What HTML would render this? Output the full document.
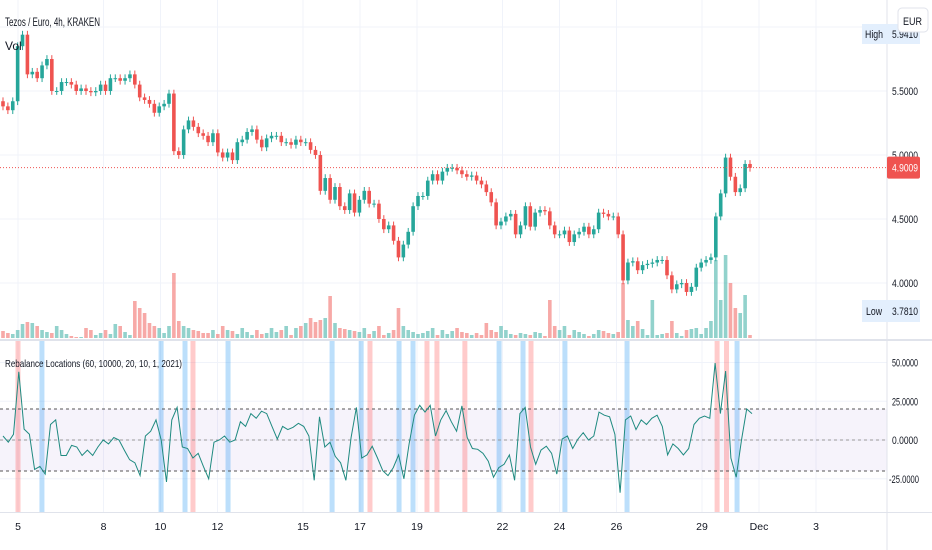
<!DOCTYPE html>
<html><head><meta charset="utf-8"><style>
html,body{margin:0;padding:0;background:#fff;width:932px;height:550px;overflow:hidden}
svg{display:block;font-family:"Liberation Sans",sans-serif}
</style></head><body>
<svg id="c" width="932" height="550" viewBox="0 0 932 550"></svg>
<script>
const closes=[5.38,5.35,5.42,5.85,5.94,5.63,5.65,5.6,5.7,5.75,5.5,5.5,5.57,5.57,5.55,5.5,5.52,5.5,5.49,5.5,5.55,5.5,5.6,5.6,5.58,5.6,5.63,5.55,5.45,5.43,5.4,5.33,5.38,5.4,5.48,5.03,5.0,5.2,5.27,5.22,5.17,5.15,5.1,5.17,5.02,4.98,5.02,4.96,5.1,5.12,5.18,5.2,5.12,5.06,5.13,5.15,5.15,5.1,5.1,5.08,5.12,5.1,5.1,5.04,5.0,4.72,4.82,4.65,4.75,4.6,
4.57,4.7,4.55,4.65,4.72,4.62,4.62,4.5,4.42,4.45,4.33,4.2,4.3,4.4,4.6,4.68,4.68,4.8,4.85,4.8,4.87,4.9,4.9,4.88,4.85,
4.83,4.84,4.8,4.77,4.71,4.63,4.45,4.48,4.52,4.54,4.38,4.45,4.6,4.44,4.55,4.57,4.56,4.45,4.38,4.38,4.41,4.32,4.38,4.4,4.44,4.38,4.42,4.55,4.54,4.52,4.52,4.38,4.02,4.16,4.17,4.1,4.14,4.15,4.16,4.18,4.18,4.06,3.95,3.99,4.0,3.93,3.97,4.12,4.16,4.18,4.2,4.52,4.7,4.98,4.83,4.71,4.74,4.93,4.9];
const volumes=[7,5,4,8,14,16,15,12,8,6,5,12,8,4,2,1,1,10,8,3,5,8,4,14,12,6,3,37,30,25,15,12,10,5,12,65,17,12,10,8,7,5,5,8,4,12,8,7,4,10,6,3,8,4,5,10,6,8,12,3,10,12,15,20,16,18,20,42,15,10,
9,8,7,6,10,4,7,12,3,5,8,30,12,8,6,4,5,7,10,3,8,4,7,10,6,
5,3,5,3,15,8,6,12,8,4,3,5,4,3,6,5,2,38,12,8,12,3,8,6,4,2,4,8,7,5,4,6,55,18,12,17,9,3,38,3,4,5,17,5,2,8,9,10,4,10,17,78,38,83,55,30,25,43,3];
const osc=[2.6,-1.4,3.7,44,7,3.7,-19,-17,-22,10,13,-10,-10,-3.5,-4.5,-10,-6.5,-10,-4.5,0,-2.5,1.6,0,-6.5,-12.7,-14.7,-23,2.6,5.7,13,0,-27,13,21,-4.5,-5.5,-11.6,-8.6,-17,-25,-1.4,0,2.6,-1.4,0,11.8,8.8,17,14,18.6,17,8.8,0.6,8.8,6.7,8.2,10.8,8.8,2.6,-26,15,-4.5,-1.4,-10.6,-14.7,-26,1.6,21,-11.6,-9.6,-4,-11.6,-19.8,-23,-17.8,-9.6,-25,-2.5,16,22.4,18,22.4,2.6,13,19,11.8,5.7,22,1.6,-5.5,-6,-8.6,-13.7,-24,-17.8,-15.7,-9.6,-26,17,21,-4.5,-15.7,-6.5,-4,-8.6,-22,0.6,2.6,-5.5,0.6,4.7,0,2.6,18,16,15,3.7,-34,13,15.5,6.7,13,10,14,16,8.8,-9.6,-2.5,-5.5,-9.6,-5.5,10,14,15.5,14,49.6,17,44.5,-11.6,-24,0,20,17];
const redStripeDays=[5.0,11.14,17.35,19.35,19.7,20.68,23.0,29.53,29.86];
const blueStripeDays=[5.84,10.02,10.86,12.37,16.02,17.04,18.37,18.86,21.88,22.72,24.19,26.37,30.23];
const tickDays=[5,8,10,12,15,17,19,22,24,26,29,31,33];
const tickLabels=["5","8","10","12","15","17","19","22","24","26","29","Dec","3"];
const priceTicks=[5.5,5.0,4.5,4.0];
const oscTicks=[50,25,0,-25];
const lastPrice=4.9009;

const NS="http://www.w3.org/2000/svg";
const svg=document.getElementById('c');
function el(t,a,p){const e=document.createElementNS(NS,t);for(const k in a)e.setAttribute(k,a[k]);(p||svg).appendChild(e);return e;}
const py=p=>155-(p-5)*128;
const oy=v=>440-v*1.55;
const dx=d=>18+(d-5)*28.5;
const bx=(i,n)=>3+i*(747/(n-1));
const G="#26a69a",R="#ef5350";

for(const p of [6.0].concat(priceTicks)){const l=el('line',{x1:0,x2:887,y1:py(p),y2:py(p),stroke:'#f0f3fa'});}
tickDays.forEach(d=>{const l=el('line',{x1:dx(d),x2:dx(d),y1:0,y2:512,stroke:'#f0f3fa'});});
oscTicks.forEach(v=>{const l=el('line',{x1:0,x2:887,y1:oy(v),y2:oy(v),stroke:'#f0f3fa'});});

const n=closes.length;
for(let i=0;i<n;i++){const o=i?closes[i-1]:5.42,c=closes[i];const up=c>=o;const h=volumes[i];
const r=el('rect',{x:bx(i,n)-1.8,y:338-h,width:3.6,height:h,fill:up?'rgba(38,166,154,0.5)':'rgba(239,83,80,0.5)'});
}
for(let i=0;i<n;i++){const o=i?closes[i-1]:5.42,c=closes[i];const up=c>=o;const col=up?G:R;const x=bx(i,n);
const hi=Math.max(o,c)+0.03,lo=Math.min(o,c)-0.03;
const w=el('line',{x1:x,x2:x,y1:py(hi),y2:py(lo),stroke:col,'stroke-width':1});

const t=py(Math.max(o,c)),b=py(Math.min(o,c));
const r=el('rect',{x:x-1.8,y:t,width:3.6,height:Math.max(1,b-t),fill:col});
}
const lp=el('line',{x1:0,x2:887,y1:py(lastPrice),y2:py(lastPrice),stroke:R,'stroke-dasharray':'1 2','stroke-width':1});


const sep=el('rect',{x:0,y:339,width:932,height:2,fill:'#e0e3eb'});
const band=el('rect',{x:0,y:oy(20),width:887,height:oy(-20)-oy(20),fill:'rgba(126,87,194,0.07)'});
redStripeDays.forEach(d=>{const s=el('rect',{x:dx(d)-2.5,y:341,width:5,height:171,fill:'rgba(255,82,82,0.3)'});});
blueStripeDays.forEach(d=>{const s=el('rect',{x:dx(d)-2.5,y:341,width:5,height:171,fill:'rgba(33,150,243,0.3)'});});
[20,0,-20].forEach(v=>{const l=el('line',{x1:0,x2:887,y1:oy(v),y2:oy(v),stroke:v?'#555':'#999','stroke-dasharray':'3 3','stroke-width':1});});
let pts=osc.map((v,i)=>(3+i*(749/(osc.length-1))).toFixed(1)+','+oy(v).toFixed(1)).join(' ');
const pl=el('polyline',{points:pts,fill:'none',stroke:'#1f8a80','stroke-width':1});

const ax=el('line',{x1:887,x2:887,y1:0,y2:550,stroke:'#e0e3eb'});
const tax=el('line',{x1:0,x2:932,y1:512.5,y2:512.5,stroke:'#e0e3eb'});
function txt(s,a,name){const t=el('text',Object.assign({'font-size':11,fill:'#131722'},a));t.textContent=s;return t;}
const cond={textLength:26,lengthAdjust:'spacingAndGlyphs'};
priceTicks.forEach(p=>txt(p.toFixed(4),Object.assign({x:892,y:py(p)+4},cond),'price-tick-label'));
oscTicks.forEach(v=>txt(v.toFixed(4),Object.assign({x:v<0?889:892,y:oy(v)+4},cond,{textLength:v<0?30:26}),'osc-tick-label'));
tickDays.forEach((d,i)=>txt(tickLabels[i],{x:dx(d),y:530,'text-anchor':'middle','font-size':10.5},'time-tick-label'));

const hb=el('rect',{x:862,y:24,width:58,height:20,fill:'#e3effd'});
txt('High',Object.assign({x:865,y:38},{textLength:18,lengthAdjust:'spacingAndGlyphs'}),'high-label');txt('5.9410',Object.assign({x:892,y:38},cond),'high-value');
const eb=el('rect',{x:898,y:8,width:30,height:24,rx:4,fill:'#fff',stroke:'#e0e3eb'});
txt('EUR',{x:903,y:25,textLength:19,lengthAdjust:'spacingAndGlyphs'},'currency-label');
const lb=el('rect',{x:862,y:300,width:58,height:22,fill:'#e3effd'});
txt('Low',{x:866,y:315,textLength:16,lengthAdjust:'spacingAndGlyphs'},'low-label');txt('3.7810',Object.assign({x:892,y:315},cond),'low-value');
const pb=el('rect',{x:887,y:py(lastPrice)-11,width:33,height:22,rx:2,fill:R});
txt('4.9009',Object.assign({x:892,y:py(lastPrice)+4,fill:'#fff'},cond),'last-price-value');

txt('Tezos / Euro, 4h, KRAKEN',{x:5,y:26,'font-size':12,textLength:95,lengthAdjust:'spacingAndGlyphs'},'symbol-title');
txt('Vol',{x:5,y:50,'font-size':12},'volume-legend');
txt('Rebalance Locations (60, 10000, 20, 10, 1, 2021)',{x:5,y:367,'font-size':10.5,textLength:177,lengthAdjust:'spacingAndGlyphs'},'indicator-title');
</script>
</body></html>
